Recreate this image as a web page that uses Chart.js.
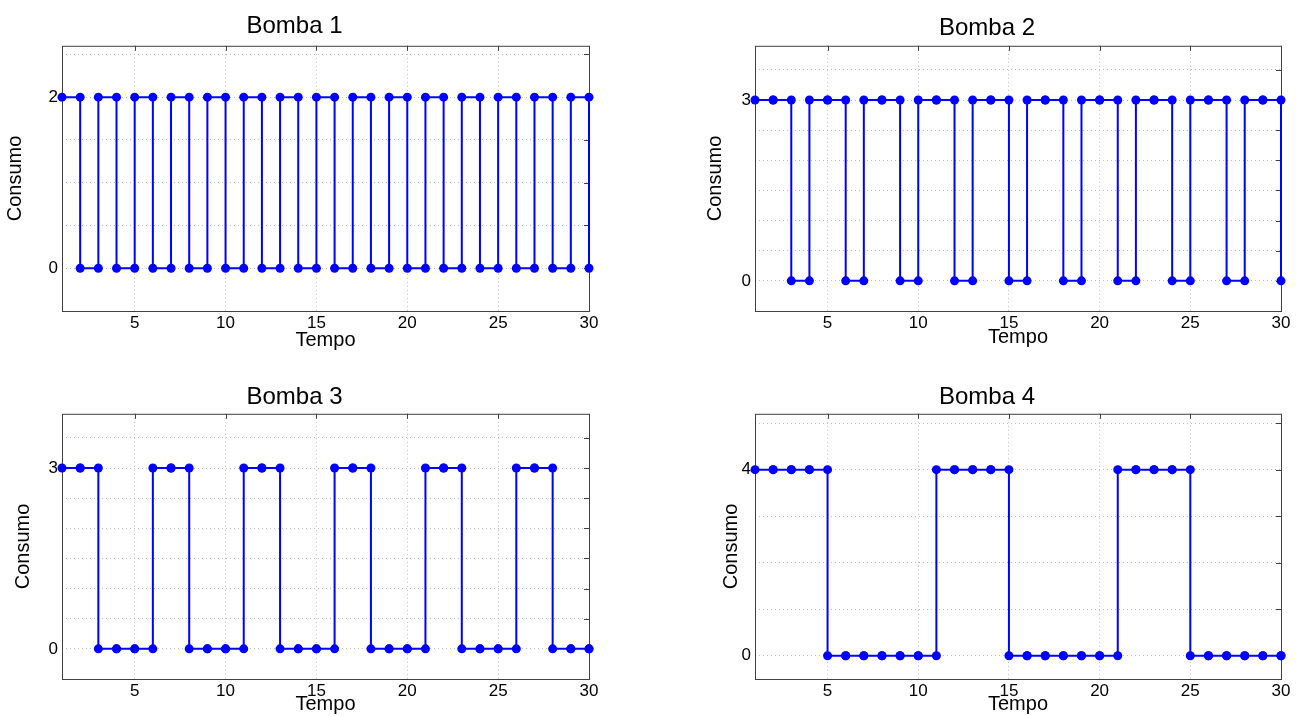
<!DOCTYPE html>
<html>
<head>
<meta charset="utf-8">
<script src="https://cdn.jsdelivr.net/npm/chart.js@4.4.1/dist/chart.umd.min.js"></script>
<style>
  body { margin: 0; background: #fff; }
  #page { position: relative; width: 1301px; height: 716px; overflow: hidden; }
  canvas { position: absolute; }
</style>
</head>
<body>
<div id="page">
  <canvas id="b1" width="650" height="358" style="left:0;top:0"></canvas>
  <canvas id="b2" width="650" height="358" style="left:651px;top:0"></canvas>
  <canvas id="b3" width="650" height="358" style="left:0;top:358px"></canvas>
  <canvas id="b4" width="650" height="358" style="left:651px;top:358px"></canvas>
</div>
<script>
// time steps
const tempo = [1, 2, 3, 4, 5, 6, 7, 8, 9, 10, 11, 12, 13, 14, 15,
               16, 17, 18, 19, 20, 21, 22, 23, 24, 25, 26, 27, 28, 29, 30];

// consumption per pump
const bomba1 = [2, 0, 2, 0, 2, 0, 2, 0, 2, 0, 2, 0, 2, 0, 2,
                0, 2, 0, 2, 0, 2, 0, 2, 0, 2, 0, 2, 0, 2, 0];
const bomba2 = [3, 3, 0, 3, 3, 0, 3, 3, 0, 3, 3, 0, 3, 3, 0,
                3, 3, 0, 3, 3, 0, 3, 3, 0, 3, 3, 0, 3, 3, 0];
const bomba3 = [3, 3, 0, 0, 0, 3, 3, 0, 0, 0, 3, 3, 0, 0, 0,
                3, 3, 0, 0, 0, 3, 3, 0, 0, 0, 3, 3, 0, 0, 0];
const bomba4 = [4, 4, 4, 4, 0, 0, 0, 0, 0, 0, 4, 4, 4, 4, 0,
                0, 0, 0, 0, 0, 4, 4, 4, 4, 0, 0, 0, 0, 0, 0];

// axis ticks
const xTicks = [5, 10, 15, 20, 25, 30];
const yGridHalf = [0, 0.5, 1, 1.5, 2, 2.5, 3, 3.5];
const yGridOne = [0, 1, 2, 3, 4, 5];
const yLabels1 = [0, 2];
const yLabels2 = [0, 3];
const yLabels3 = [0, 3];
const yLabels4 = [0, 4];

Chart.defaults.font.family = "'Liberation Sans', Arial, Helvetica, sans-serif";
Chart.defaults.color = '#000';

// matlab stairs(): corner + point vertices
function stairs(xs, ys) {
  const pts = [];
  for (let i = 0; i < xs.length; i++) {
    if (i > 0) pts.push({ x: xs[i], y: ys[i - 1] });
    pts.push({ x: xs[i], y: ys[i] });
  }
  return pts;
}

const framePlugin = {
  id: 'frame',
  beforeDatasetsDraw(chart) {
    const { ctx, chartArea: a, scales } = chart;
    ctx.save();
    ctx.strokeStyle = '#404040';
    ctx.lineWidth = 1;
    ctx.beginPath();
    scales.y.ticks.forEach(t => {
      const py = Math.round(scales.y.getPixelForValue(t.value)) + 0.5;
      ctx.moveTo(a.right, py);
      ctx.lineTo(a.right - 5, py);
    });
    scales.x.ticks.forEach(t => {
      const px = Math.round(scales.x.getPixelForValue(t.value)) + 0.5;
      ctx.moveTo(px, a.top);
      ctx.lineTo(px, a.top + 5);
    });
    ctx.stroke();
    ctx.strokeRect(a.left + 0.5, a.top + 0.5, a.right - a.left, a.bottom - a.top);
    ctx.restore();
  }
};

function drawPanel(canvasID, title, ys, yMin, yMax, yGrid, yLabels, g) {
  const ctx = document.getElementById(canvasID).getContext('2d');
  return new Chart(ctx, {
    type: 'line',
    data: {
      datasets: [{
        data: stairs(tempo, ys),
        borderColor: 'rgb(0,0,255)',
        backgroundColor: 'rgb(0,0,255)',
        borderWidth: 2,
        pointRadius: 4.5,
        pointBorderWidth: 0,
        pointBackgroundColor: 'rgb(0,0,255)',
        fill: false,
        clip: false
      }]
    },
    options: {
      responsive: false,
      animation: false,
      events: [],
      layout: { padding: { left: g.padL, right: g.padR, top: 0, bottom: g.padB } },
      plugins: {
        legend: { display: false },
        tooltip: { enabled: false },
        title: {
          display: true,
          text: title,
          font: { size: 24, weight: 'normal' },
          color: '#000',
          padding: { top: g.titleTop, bottom: g.titleBottom }
        }
      },
      scales: {
        x: {
          type: 'linear',
          min: 1,
          max: 30,
          afterBuildTicks: s => { s.ticks = xTicks.map(v => ({ value: v })); },
          afterFit: s => { s.height = g.xH; },
          grid: { color: '#bcbcbc', lineWidth: 1, drawTicks: false },
          border: { display: false, dash: [1, 3] },
          ticks: { font: { size: 17 }, padding: 2, autoSkip: false, maxRotation: 0 },
          title: { display: true, text: 'Tempo', font: { size: 20 }, padding: { top: 0, bottom: g.xTitlePad } }
        },
        y: {
          min: yMin,
          max: yMax,
          afterBuildTicks: s => { s.ticks = yGrid.map(v => ({ value: v })); },
          afterFit: s => { s.width = 62; },
          grid: { color: '#bcbcbc', lineWidth: 1, drawTicks: false },
          border: { display: false, dash: [1, 3] },
          ticks: {
            font: { size: 17 },
            padding: 4,
            autoSkip: false,
            callback: v => (yLabels.includes(v) ? String(v) : '')
          },
          title: { display: true, text: 'Consumo', font: { size: 20 }, padding: { top: g.yTitlePad, bottom: 0 } }
        }
      }
    },
    plugins: [framePlugin]
  });
}

drawPanel('b1', 'Bomba 1', bomba1, -0.5, 2.6, yGridHalf.slice(0, 6), yLabels1,
  { padL: 0, padR: 61, padB: 5, xH: 42, xTitlePad: 1, yTitlePad: 3, titleTop: 12, titleBottom: 5 });
drawPanel('b2', 'Bomba 2', bomba2, -0.5, 3.9, yGridHalf, yLabels2,
  { padL: 42, padR: 20, padB: 5, xH: 42, xTitlePad: 4, yTitlePad: 10, titleTop: 14, titleBottom: 3 });
drawPanel('b3', 'Bomba 3', bomba3, -0.5, 3.9, yGridHalf, yLabels3,
  { padL: 0, padR: 61, padB: 0, xH: 37, xTitlePad: 0, yTitlePad: 11, titleTop: 25, titleBottom: 2 });
drawPanel('b4', 'Bomba 4', bomba4, -0.5, 5.2, yGridOne, yLabels4,
  { padL: 42, padR: 20, padB: 0, xH: 37, xTitlePad: 0, yTitlePad: 26, titleTop: 25, titleBottom: 2 });
</script>
</body>
</html>
